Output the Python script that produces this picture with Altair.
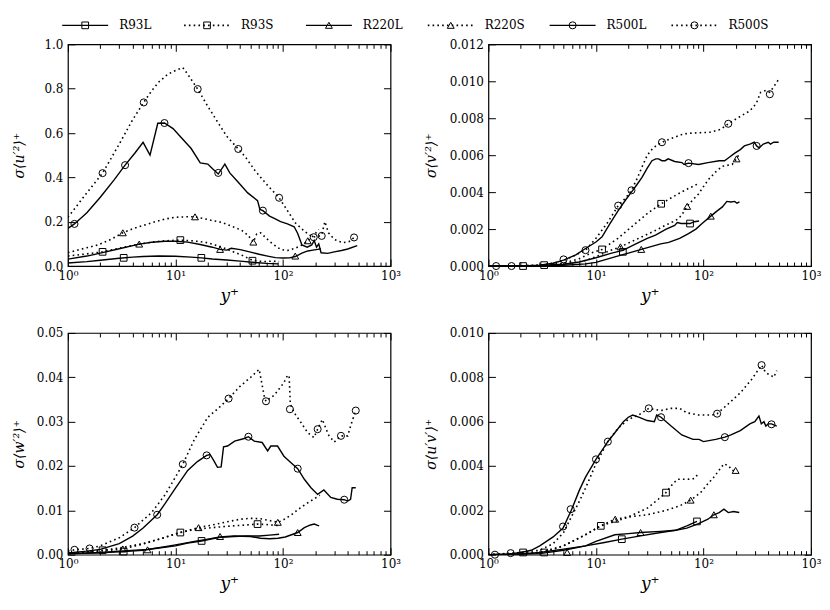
import altair as alt
import pandas as pd

SERIES = ["R93L", "R93S", "R220L", "R220S", "R500L", "R500S"]

# ---------------- panel 1 : sigma <u'^2>+ ----------------
U2_R93L = [(1, 0.014), (1.5, 0.02), (2, 0.026), (3, 0.035), (4, 0.04), (5, 0.043), (7, 0.045), (10, 0.044),
           (14, 0.04), (17.4, 0.037), (22, 0.032), (30, 0.027), (40, 0.022), (55, 0.016), (70, 0.012), (90, 0.01)]
U2_R93S = [(1, 0.045), (1.5, 0.055), (2.1, 0.064), (3, 0.08), (4, 0.093), (5.5, 0.105), (7.5, 0.113), (11, 0.117),
           (15, 0.113), (20, 0.105), (26, 0.088), (33, 0.068), (41, 0.05), (52, 0.026), (65, 0.02), (80, 0.022), (92, 0.02)]
U2_R220L = [(1, 0.031), (1.5, 0.045), (2, 0.058), (3, 0.078), (4.6, 0.099), (6, 0.107), (8, 0.112), (10, 0.112),
            (13, 0.108), (17, 0.097), (22, 0.085), (26, 0.075), (30, 0.072), (33, 0.08), (40, 0.074), (50, 0.063),
            (60, 0.053), (72, 0.045), (85, 0.038), (100, 0.036), (115, 0.037), (130, 0.043), (150, 0.058),
            (170, 0.068), (190, 0.072), (210, 0.075), (225, 0.078)]
U2_R220S = [(1, 0.06), (1.3, 0.075), (1.9, 0.095), (2.5, 0.12), (3.24, 0.15), (4, 0.168), (5, 0.183), (6.5, 0.2),
            (8, 0.212), (10, 0.22), (12.5, 0.222), (15.2, 0.222), (18, 0.215), (22, 0.205), (27, 0.197), (33, 0.18),
            (41, 0.162), (47, 0.14), (53, 0.108), (57, 0.145), (62, 0.15), (70, 0.125), (80, 0.1), (95, 0.075),
            (110, 0.07), (130, 0.08), (150, 0.095), (170, 0.114), (195, 0.14), (215, 0.165)]
U2_R500L = [(1, 0.17), (1.15, 0.19), (1.5, 0.24), (2, 0.31), (2.7, 0.39), (3.4, 0.455), (4.2, 0.51), (5, 0.558),
            (5.8, 0.5), (6.85, 0.644), (7.9, 0.645), (9.5, 0.62), (11.3, 0.58), (14, 0.53), (17, 0.465), (20, 0.46),
            (22, 0.44), (25, 0.415), (28.8, 0.46), (32, 0.42), (38, 0.38), (47, 0.33), (58, 0.295), (61, 0.255),
            (65, 0.25), (75, 0.225), (83, 0.215), (95, 0.2), (110, 0.19), (127, 0.177), (137, 0.147), (150, 0.095),
            (168, 0.085), (185, 0.095), (195, 0.115), (205, 0.085), (215, 0.1), (226, 0.06), (260, 0.057),
            (300, 0.064), (350, 0.07), (400, 0.077), (490, 0.092)]
U2_R500S = [(1, 0.22), (1.5, 0.33), (2.1, 0.419), (3, 0.55), (4, 0.66), (5.07, 0.738), (6, 0.79), (7, 0.83),
            (8.5, 0.865), (10, 0.882), (11.7, 0.895), (13, 0.865), (16.1, 0.798), (20, 0.72), (25, 0.645),
            (30, 0.585), (38.4, 0.528), (45, 0.49), (55, 0.43), (70, 0.37), (92, 0.308), (110, 0.25), (130, 0.195),
            (160, 0.155), (190, 0.13), (215, 0.135), (229, 0.14), (245, 0.2), (265, 0.15), (300, 0.12),
            (360, 0.105), (410, 0.11), (458, 0.129)]
U2_MK_R93L = [(3.3, 0.037), (17.4, 0.037)]
U2_MK_R93S = [(2.1, 0.064), (11.1, 0.117), (52, 0.024)]
U2_MK_R220L = [(4.6, 0.099), (26, 0.075), (130, 0.045)]
U2_MK_R220S = [(3.24, 0.15), (15.2, 0.222), (53, 0.108), (170, 0.114)]
U2_MK_R500L = [(1.15, 0.19), (3.4, 0.455), (7.9, 0.645), (25, 0.42), (65, 0.25), (193, 0.13)]
U2_MK_R500S = [(2.1, 0.419), (5.07, 0.738), (16.1, 0.798), (38.4, 0.528), (92, 0.308), (229, 0.136), (458, 0.129)]

# ---------------- panel 2 : sigma <v'^2>+ ----------------
V2_R93L = [(1, 0), (2, 0.00001), (3, 0.00003), (5, 0.0001), (7, 0.00022), (10, 0.00045), (14, 0.0007),
           (17.8, 0.00085), (23.5, 0.0012), (30, 0.0015), (35.8, 0.00167), (45, 0.002), (54, 0.0022), (57, 0.00235),
           (62, 0.0023), (75, 0.0023), (82, 0.0024), (91, 0.00244)]
V2_R93S = [(1, 0), (2, 0.00001), (3.3, 0.00005), (5, 0.00015), (7, 0.0004), (9, 0.0007), (11.4, 0.0009),
           (16, 0.0015), (23.3, 0.0023), (30.9, 0.0029), (40.4, 0.00337), (54, 0.0038), (67, 0.0041), (89, 0.00445)]
V2_R220L = [(1, 0), (3, 0.00001), (5, 0.00004), (8, 0.00012), (10, 0.0002), (15, 0.0005), (20, 0.0007),
            (26.4, 0.0009), (40, 0.0012), (47.5, 0.00128), (60, 0.0015), (72.6, 0.00175), (85, 0.002), (97, 0.0023),
            (117, 0.0027), (135, 0.003), (150, 0.0032), (165, 0.0035), (180, 0.00347), (195, 0.0035),
            (205, 0.0034), (216, 0.00347)]
V2_R220S = [(1, 0), (3, 0.00002), (5, 0.0001), (8, 0.0003), (10, 0.0005), (13, 0.0008), (16.9, 0.00104),
            (21, 0.0013), (26.8, 0.00158), (35, 0.0019), (44, 0.0022), (52, 0.0024), (59, 0.00257), (65, 0.0029),
            (70.5, 0.00323), (80, 0.0036), (90, 0.0039), (100, 0.0043), (112, 0.0047), (130, 0.0051),
            (150, 0.0054), (185, 0.0055), (203, 0.0058), (212, 0.006)]
V2_R500L = [(1, 0), (2, 0.00001), (3, 0.00005), (4, 0.00015), (5, 0.00032), (6.5, 0.0006), (8, 0.00095),
            (10, 0.0013), (11.4, 0.00158), (13.5, 0.0023), (16.1, 0.003), (19, 0.0036), (21.4, 0.004), (24, 0.0044),
            (26.8, 0.0048), (30, 0.0053), (33.2, 0.0057), (36, 0.0058), (38.3, 0.0058), (41, 0.0057), (44, 0.0057),
            (47, 0.0058), (54, 0.00566), (63, 0.0056), (66, 0.0055), (72.6, 0.00557), (90, 0.0055), (110, 0.0056),
            (140, 0.0057), (157, 0.0057), (175, 0.0059), (194, 0.0061), (220, 0.0063), (240, 0.0065),
            (270, 0.0066), (297, 0.0067), (312, 0.0065), (330, 0.0064), (360, 0.0066), (400, 0.0067),
            (420, 0.0066), (450, 0.0067), (500, 0.0067)]
V2_R500S = [(1, 0), (2, 0.00001), (3, 0.00005), (4, 0.00015), (5, 0.0003), (6.5, 0.0006), (8, 0.00086),
            (10, 0.0015), (13, 0.0024), (16.1, 0.00327), (19, 0.0037), (21.4, 0.0041), (24, 0.0047), (27, 0.0054),
            (30, 0.006), (34, 0.0064), (41.1, 0.0067), (50, 0.0069), (65, 0.00715), (80, 0.0072), (115, 0.00724),
            (145, 0.0074), (170, 0.0077), (220, 0.0081), (270, 0.0084), (310, 0.0088), (340, 0.0094),
            (380, 0.0095), (414, 0.0094), (450, 0.0097), (500, 0.0101)]
V2_MK_R93L = [(2.1, 0.0), (17.8, 0.00077), (75, 0.0023)]
V2_MK_R93S = [(3.3, 0.00005), (11.4, 0.0009), (40.4, 0.00337)]
V2_MK_R220L = [(26.4, 0.0009), (117, 0.0027)]
V2_MK_R220S = [(16.9, 0.00104), (70.5, 0.00323), (203, 0.0058)]
V2_MK_R500L = [(1.18, 0.0), (5.0, 0.00036), (21.4, 0.0041), (72.6, 0.00557), (312, 0.0065)]
V2_MK_R500S = [(1.64, 0.0), (8.0, 0.00086), (16.1, 0.00327), (41.1, 0.0067), (170, 0.0077), (414, 0.0093)]

# ---------------- panel 3 : sigma <w'^2>+ ----------------
W2_R93L = [(1, 0.0002), (2, 0.0004), (3.3, 0.0007), (5, 0.001), (7, 0.0015), (10, 0.002), (13, 0.0026),
           (17.5, 0.0031), (22, 0.0036), (26, 0.0039), (35, 0.0041), (45, 0.0042), (60, 0.0042), (75, 0.0044),
           (92, 0.0046)]
W2_R93S = [(1, 0.0003), (1.5, 0.0006), (2.1, 0.001), (3, 0.0015), (5, 0.0025), (8, 0.0039), (11.1, 0.005),
           (15, 0.0057), (20, 0.006), (30, 0.0064), (45, 0.0067), (58, 0.0069), (70, 0.0068), (85, 0.0066),
           (92, 0.0066)]
W2_R220L = [(1, 0.0002), (2, 0.0005), (3, 0.0008), (5.5, 0.0012), (8, 0.0018), (10, 0.0022), (15, 0.003),
            (20, 0.0035), (26, 0.004), (35, 0.0042), (50, 0.0041), (62, 0.0037), (75, 0.0036), (90, 0.0037),
            (105, 0.004), (120, 0.0045), (137, 0.005), (158, 0.0061), (180, 0.0067), (195, 0.0069), (210, 0.0066),
            (217, 0.0065)]
W2_R220S = [(1, 0.0003), (1.5, 0.0006), (2, 0.0008), (3.24, 0.0013), (5, 0.0024), (8, 0.0039), (11, 0.005),
            (16.4, 0.0061), (22, 0.0067), (30, 0.0074), (40, 0.008), (50, 0.0082), (62, 0.0081), (75, 0.0077),
            (89.5, 0.0073), (100, 0.0078), (120, 0.009), (140, 0.0103), (165, 0.0115), (195, 0.0126),
            (220, 0.0134)]
W2_R500L = [(1, 0.0004), (1.5, 0.0008), (2, 0.0012), (3, 0.0025), (4, 0.0042), (5, 0.006), (6.76, 0.009),
            (8, 0.0115), (10, 0.015), (13, 0.019), (16, 0.021), (19.5, 0.0224), (21, 0.0226), (23, 0.021),
            (24.6, 0.0197), (26.6, 0.0198), (28, 0.0243), (30.5, 0.0245), (35.5, 0.0256), (43.6, 0.0262),
            (47.7, 0.0266), (54, 0.0256), (64, 0.0253), (72, 0.0234), (77, 0.0245), (89, 0.0245), (102, 0.0222),
            (118, 0.0208), (137, 0.0194), (158, 0.017), (182, 0.0151), (210, 0.0136), (240, 0.0146),
            (278, 0.0129), (320, 0.0125), (371, 0.0124), (400, 0.0121), (425, 0.0125), (440, 0.0151),
            (475, 0.0151)]
W2_R500S = [(1, 0.0008), (1.15, 0.0011), (1.59, 0.0014), (2, 0.002), (3, 0.0038), (4.16, 0.0061), (6, 0.0095),
            (8, 0.0135), (10, 0.0175), (11.7, 0.0204), (15, 0.026), (20, 0.031), (25, 0.033), (31.2, 0.0352),
            (40, 0.038), (50, 0.04), (60, 0.0418), (67, 0.0357), (69.5, 0.0346), (83, 0.036), (102, 0.0388),
            (110, 0.0404), (114, 0.0404), (117, 0.034), (127, 0.032), (147, 0.0298), (170, 0.0275), (194, 0.0264),
            (210, 0.0283), (232, 0.0305), (265, 0.027), (300, 0.0254), (346, 0.0268), (400, 0.0268),
            (430, 0.0294), (475, 0.0325)]
W2_MK_R93L = [(3.3, 0.0007), (17.5, 0.0031)]
W2_MK_R93S = [(2.1, 0.001), (11.1, 0.005), (58, 0.0069)]
W2_MK_R220L = [(5.5, 0.0011), (26, 0.0041), (137, 0.005)]
W2_MK_R220S = [(3.24, 0.0013), (16.4, 0.0061), (89.5, 0.0073)]
W2_MK_R500L = [(1.15, 0.0011), (6.76, 0.009), (19.5, 0.0224), (47.7, 0.0266), (137, 0.0194), (371, 0.0124)]
W2_MK_R500S = [(1.59, 0.0014), (4.16, 0.0061), (11.7, 0.0204), (31.2, 0.0352), (69.5, 0.0346), (116, 0.0328),
               (210, 0.0283), (346, 0.0268), (475, 0.0325)]

# ---------------- panel 4 : sigma <u'v'>+ ----------------
UV_R93L = [(1, 0), (2, 0.00003), (3, 0.0001), (5, 0.00025), (8, 0.0004), (12, 0.00055), (17.4, 0.0007),
           (26, 0.00085), (40, 0.001), (55, 0.0011), (70, 0.0013), (87, 0.0015)]
UV_R93S = [(1, 0), (2, 0.00003), (3.3, 0.0001), (5, 0.0004), (8, 0.0009), (11.1, 0.0013), (15, 0.0015),
           (20, 0.0017), (30, 0.0021), (38, 0.0025), (44.8, 0.0028), (52, 0.0032), (57.6, 0.0034), (71, 0.0034),
           (82, 0.00343), (88, 0.0036)]
UV_R220L = [(1, 0), (2, 0.00002), (3, 0.00005), (5, 0.0002), (8, 0.0004), (10, 0.0006), (15, 0.0009),
            (20, 0.00095), (26, 0.001), (40, 0.00105), (55, 0.0011), (70, 0.0012), (90, 0.0014), (110, 0.0016),
            (125, 0.0018), (140, 0.0019), (155, 0.00205), (170, 0.0019), (190, 0.00195), (215, 0.0019)]
UV_R220S = [(1, 0), (2, 0.00005), (3, 0.0001), (5, 0.0004), (8, 0.0009), (11, 0.0013), (15.1, 0.0016),
            (20, 0.0017), (30, 0.0018), (45, 0.002), (60, 0.0022), (76, 0.00246), (94, 0.0028), (110, 0.0032),
            (125, 0.0035), (155, 0.0041), (172, 0.004), (185, 0.0038), (199, 0.0038)]
UV_R500L = [(1, 0), (1.5, 0.00002), (2, 0.0001), (2.5, 0.0002), (3, 0.0004), (4, 0.0008), (4.95, 0.0012),
            (5.9, 0.002), (7, 0.0029), (8, 0.0035), (10, 0.0043), (12.9, 0.0051), (15, 0.0055), (18, 0.006),
            (20, 0.0062), (22, 0.0063), (25, 0.0062), (30, 0.00605), (34.9, 0.006), (36.7, 0.0063),
            (40.3, 0.0062), (50, 0.0058), (62.8, 0.0054), (80, 0.0052), (91, 0.0052), (100, 0.0051),
            (130, 0.0052), (158, 0.0053), (180, 0.0054), (220, 0.0056), (270, 0.0059), (300, 0.006),
            (328, 0.00625), (345, 0.0059), (365, 0.006), (380, 0.0058), (400, 0.0059), (429, 0.0059),
            (480, 0.0058)]
UV_R500S = [(1, 0), (1.61, 0.00007), (2, 0.0001), (3, 0.0002), (4, 0.0005), (5, 0.001), (5.9, 0.0017),
            (7, 0.0024), (8, 0.003), (10, 0.0041), (12.9, 0.0051), (16, 0.0057), (20, 0.0061), (25, 0.0063),
            (31, 0.0066), (40, 0.0065), (50, 0.0066), (60, 0.0066), (70, 0.0064), (90, 0.0063), (120, 0.0063),
            (134, 0.00636), (170, 0.0068), (220, 0.0073), (280, 0.0079), (347, 0.00855), (380, 0.0082),
            (420, 0.0081), (450, 0.008), (480, 0.0083)]
UV_MK_R93L = [(2.1, 0.0001), (17.4, 0.0007), (87, 0.0015)]
UV_MK_R93S = [(3.3, 0.0001), (11.1, 0.0013), (44.8, 0.0028)]
UV_MK_R220L = [(5.4, 0.0001), (26, 0.001), (125, 0.0018)]
UV_MK_R220S = [(15.1, 0.0016), (76, 0.00246), (199, 0.0038)]
UV_MK_R500L = [(1.15, 0.0), (5.82, 0.00205), (12.9, 0.0051), (40.3, 0.0062), (158, 0.0053), (429, 0.00588)]
UV_MK_R500S = [(1.61, 0.00007), (4.94, 0.00127), (10, 0.0043), (31, 0.0066), (134, 0.00636), (347, 0.00855)]

X_MAJOR = [1, 10, 100, 1000]
X_MINOR = [m * d for d in (1, 10, 100) for m in range(2, 10)]

FONT = "DejaVu Serif"
PW, PH = 323, 222
SHAPES = ["square", "triangle-up", "circle"]
GROUPS = ["R93", "R220", "R500"]
MARK_SIZES = [80, 90, 110]

X_LABEL = ("datum.value == 1 ? '10\u2070' : datum.value == 10 ? '10\u00b9' : "
           "datum.value == 100 ? '10\u00b2' : '10\u00b3'")


def to_df(d):
    rows = []
    for s, pts in d.items():
        for k, (x, y) in enumerate(pts):
            rows.append({"x": x, "y": y, "series": s, "kind": s[-1], "grp": s[:-1], "o": k})
    return pd.DataFrame(rows)


def panel(lines, marks, ydom, yvals, yfmt, ytitle, title_x):
    ldf = to_df(lines)
    mdf = to_df(marks)
    xs = alt.Scale(type="log", domain=[1, 1000], nice=False)
    ys = alt.Scale(domain=ydom, nice=False, zero=False)

    ax_bm = alt.Axis(orient="bottom", values=X_MAJOR, offset=-7, tickSize=7, domain=False, labelExpr=X_LABEL,
                     labelPadding=4, labelFlush=False, labelOverlap=False, title="y\u207a", titleFontSize=17,
                     titleFontStyle="italic", titlePadding=6)
    ax_bn = alt.Axis(orient="bottom", values=X_MINOR, offset=-4, tickSize=4, domain=False, labels=False,
                     title=None)
    ax_tm = alt.Axis(orient="top", values=X_MAJOR, offset=-7, tickSize=7, domain=False, labels=False, title=None)
    ax_tn = alt.Axis(orient="top", values=X_MINOR, offset=-4, tickSize=4, domain=False, labels=False, title=None)
    ay_l = alt.Axis(orient="left", values=yvals, offset=-7, tickSize=7, domain=False, format=yfmt,
                    labelPadding=5, labelFlush=False, labelOverlap=False, title=ytitle, titleX=title_x,
                    titleY=PH / 2, titleAngle=270, titleBaseline="top", titleAlign="center",
                    titleFontSize=14, titleFontStyle="italic")
    ay_r = alt.Axis(orient="right", values=yvals, offset=-7, tickSize=7, domain=False, labels=False, title=None)

    solid = alt.Chart(ldf).transform_filter("datum.kind == 'L'").mark_line(
        color="black", strokeWidth=1.4, clip=True).encode(
        x=alt.X("x:Q", scale=xs, axis=ax_bm),
        y=alt.Y("y:Q", scale=ys, axis=ay_l),
        detail="series:N", order="o:Q")
    dotted = alt.Chart(ldf).transform_filter("datum.kind == 'S'").mark_line(
        color="black", strokeWidth=1.6, strokeDash=[1.6, 3.2], clip=True).encode(
        x=alt.X("x:Q", scale=xs, axis=ax_bn),
        y=alt.Y("y:Q", scale=ys, axis=ay_r),
        detail="series:N", order="o:Q")
    pts = alt.Chart(mdf).mark_point(filled=False, color="black", strokeWidth=1, opacity=1).encode(
        x=alt.X("x:Q", scale=xs, axis=ax_tm),
        y=alt.Y("y:Q", scale=ys, axis=None),
        shape=alt.Shape("grp:N", scale=alt.Scale(domain=GROUPS, range=SHAPES), legend=None),
        size=alt.Size("grp:N", scale=alt.Scale(domain=GROUPS, range=MARK_SIZES), legend=None))
    ghost = alt.Chart(mdf).mark_point(opacity=0).encode(
        x=alt.X("x:Q", scale=xs, axis=ax_tn),
        y=alt.Y("y:Q", scale=ys, axis=None))
    return alt.layer(solid, dotted, pts, ghost).resolve_axis(x="independent", y="independent").properties(
        width=PW, height=PH)


def series_dict(vals):
    return dict(zip(SERIES, vals))


p1 = panel(series_dict([U2_R93L, U2_R93S, U2_R220L, U2_R220S, U2_R500L, U2_R500S]),
           series_dict([U2_MK_R93L, U2_MK_R93S, U2_MK_R220L, U2_MK_R220S, U2_MK_R500L, U2_MK_R500S]),
           [0, 1.0], [0, 0.2, 0.4, 0.6, 0.8, 1.0], ".1f", "\u03c3\u27e8u\u2032\u00b2\u27e9\u207a", -62)
p2 = panel(series_dict([V2_R93L, V2_R93S, V2_R220L, V2_R220S, V2_R500L, V2_R500S]),
           series_dict([V2_MK_R93L, V2_MK_R93S, V2_MK_R220L, V2_MK_R220S, V2_MK_R500L, V2_MK_R500S]),
           [0, 0.012], [0, 0.002, 0.004, 0.006, 0.008, 0.010, 0.012], ".3f",
           "\u03c3\u27e8v\u2032\u00b2\u27e9\u207a", -71)
p3 = panel(series_dict([W2_R93L, W2_R93S, W2_R220L, W2_R220S, W2_R500L, W2_R500S]),
           series_dict([W2_MK_R93L, W2_MK_R93S, W2_MK_R220L, W2_MK_R220S, W2_MK_R500L, W2_MK_R500S]),
           [0, 0.05], [0, 0.01, 0.02, 0.03, 0.04, 0.05], ".2f", "\u03c3\u27e8w\u2032\u00b2\u27e9\u207a", -62)
p4 = panel(series_dict([UV_R93L, UV_R93S, UV_R220L, UV_R220S, UV_R500L, UV_R500S]),
           series_dict([UV_MK_R93L, UV_MK_R93S, UV_MK_R220L, UV_MK_R220S, UV_MK_R500L, UV_MK_R500S]),
           [0, 0.010], [0, 0.002, 0.004, 0.006, 0.008, 0.010], ".3f",
           "\u03c3\u27e8u\u2032v\u2032\u27e9\u207a", -71)

grid = alt.concat(p1, p2, p3, p4, columns=2, spacing={"row": 22, "column": 22}, align="each")

# ---------------- legend (drawn as its own small chart) ----------------
LEG_PAGE_X0 = 66.7            # page x of the legend's left edge (aligned with first panel)
LEG_W, LEG_H = 743, 24
ITEM_X0, ITEM_STEP = 61, 122  # page x of first handle, spacing between entries
HANDLE, LABEL_GAP = 46, 57

leg_lines, leg_marks, leg_text = [], [], []
for i, s in enumerate(SERIES):
    for p in (0, 1):
        leg_lines.append({"u": i + p * HANDLE / ITEM_STEP, "v": 0, "series": s, "kind": s[-1]})
    leg_marks.append({"u": i + HANDLE / 2 / ITEM_STEP, "v": 0, "series": s, "grp": s[:-1]})
    leg_text.append({"u": i + LABEL_GAP / ITEM_STEP, "v": 0, "series": s})
ll, lm, lt = pd.DataFrame(leg_lines), pd.DataFrame(leg_marks), pd.DataFrame(leg_text)
u0 = (LEG_PAGE_X0 - ITEM_X0) / ITEM_STEP
u1 = (LEG_PAGE_X0 + LEG_W - ITEM_X0) / ITEM_STEP
lx = alt.Scale(domain=[u0, u1], nice=False, zero=False)
ly = alt.Scale(domain=[-1, 1])

leg_solid = alt.Chart(ll).transform_filter("datum.kind == 'L'").mark_line(
    color="black", strokeWidth=1.4).encode(
    x=alt.X("u:Q", scale=lx, axis=None), y=alt.Y("v:Q", scale=ly, axis=None), detail="series:N")
leg_dot = alt.Chart(ll).transform_filter("datum.kind == 'S'").mark_line(
    color="black", strokeWidth=1.6, strokeDash=[1.6, 3.2]).encode(
    x=alt.X("u:Q", scale=lx, axis=None), y=alt.Y("v:Q", scale=ly, axis=None), detail="series:N")
leg_pts = alt.Chart(lm).mark_point(filled=False, color="black", strokeWidth=1, opacity=1).encode(
    x=alt.X("u:Q", scale=lx, axis=None), y=alt.Y("v:Q", scale=ly, axis=None),
    shape=alt.Shape("grp:N", scale=alt.Scale(domain=GROUPS, range=SHAPES), legend=None),
    size=alt.Size("grp:N", scale=alt.Scale(domain=GROUPS, range=[45, 50, 55]), legend=None))
leg_txt = alt.Chart(lt).mark_text(align="left", baseline="middle", font=FONT, fontSize=12, color="black").encode(
    x=alt.X("u:Q", scale=lx, axis=None), y=alt.Y("v:Q", scale=ly, axis=None), text="series:N")
legend = alt.layer(leg_solid, leg_dot, leg_pts, leg_txt).properties(
    width=LEG_W, height=LEG_H, view=alt.ViewConfig(stroke=None))

chart = alt.vconcat(legend, grid, spacing=0).properties(
    padding={"left": 4, "top": 5, "right": 0, "bottom": 0}
).configure_view(stroke="black", strokeWidth=1.2).configure_axis(
    labelFont=FONT, labelFontSize=12, labelColor="black", titleFont=FONT, titleColor="black",
    titleFontWeight="normal", tickColor="black", tickWidth=1, grid=False
)

chart.save("out.html", embed_options={"renderer": "svg", "actions": False})
